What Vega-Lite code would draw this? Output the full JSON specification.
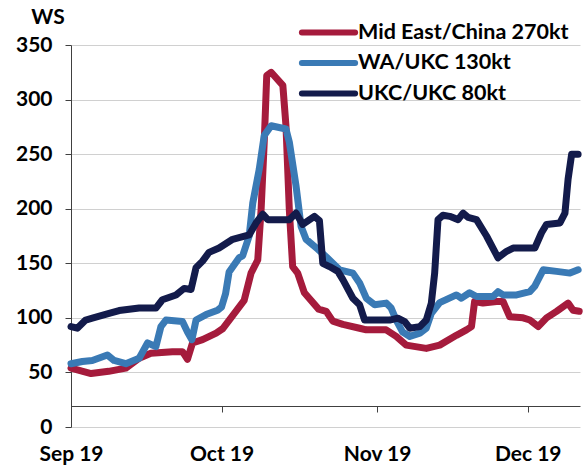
{
  "$schema": "https://vega.github.io/schema/vega-lite/v6.json",
  "width": 509,
  "height": 382,
  "autosize": {"type": "none"},
  "padding": {"left": 71, "top": 45, "right": 7, "bottom": 40},
  "background": "white",
  "config": {"view": {"stroke": null}, "font": "Lato"},
  "data": {"values": [
    {"route": "Mid East/China 270kt", "date": "2019-09-01T00:00", "ws": 54},
    {"route": "Mid East/China 270kt", "date": "2019-09-05T00:00", "ws": 49},
    {"route": "Mid East/China 270kt", "date": "2019-09-08T12:00", "ws": 51},
    {"route": "Mid East/China 270kt", "date": "2019-09-11T22:00", "ws": 54},
    {"route": "Mid East/China 270kt", "date": "2019-09-14T14:00", "ws": 63},
    {"route": "Mid East/China 270kt", "date": "2019-09-16T22:00", "ws": 67.5},
    {"route": "Mid East/China 270kt", "date": "2019-09-21T05:00", "ws": 69},
    {"route": "Mid East/China 270kt", "date": "2019-09-23T05:00", "ws": 69},
    {"route": "Mid East/China 270kt", "date": "2019-09-24T05:00", "ws": 62},
    {"route": "Mid East/China 270kt", "date": "2019-09-25T05:00", "ws": 77},
    {"route": "Mid East/China 270kt", "date": "2019-09-27T05:00", "ws": 80},
    {"route": "Mid East/China 270kt", "date": "2019-09-29T22:00", "ws": 86},
    {"route": "Mid East/China 270kt", "date": "2019-10-01T05:00", "ws": 90},
    {"route": "Mid East/China 270kt", "date": "2019-10-03T05:00", "ws": 102},
    {"route": "Mid East/China 270kt", "date": "2019-10-05T12:00", "ws": 116},
    {"route": "Mid East/China 270kt", "date": "2019-10-06T21:00", "ws": 141},
    {"route": "Mid East/China 270kt", "date": "2019-10-08T05:00", "ws": 153},
    {"route": "Mid East/China 270kt", "date": "2019-10-08T21:00", "ws": 199},
    {"route": "Mid East/China 270kt", "date": "2019-10-09T12:00", "ws": 261},
    {"route": "Mid East/China 270kt", "date": "2019-10-10T00:00", "ws": 322},
    {"route": "Mid East/China 270kt", "date": "2019-10-10T21:00", "ws": 325},
    {"route": "Mid East/China 270kt", "date": "2019-10-13T05:00", "ws": 313},
    {"route": "Mid East/China 270kt", "date": "2019-10-13T20:00", "ws": 276},
    {"route": "Mid East/China 270kt", "date": "2019-10-14T12:00", "ws": 199},
    {"route": "Mid East/China 270kt", "date": "2019-10-15T04:00", "ws": 147},
    {"route": "Mid East/China 270kt", "date": "2019-10-16T04:00", "ws": 141},
    {"route": "Mid East/China 270kt", "date": "2019-10-17T12:00", "ws": 123},
    {"route": "Mid East/China 270kt", "date": "2019-10-20T08:00", "ws": 108},
    {"route": "Mid East/China 270kt", "date": "2019-10-21T20:00", "ws": 106},
    {"route": "Mid East/China 270kt", "date": "2019-10-23T04:00", "ws": 97},
    {"route": "Mid East/China 270kt", "date": "2019-10-25T04:00", "ws": 94},
    {"route": "Mid East/China 270kt", "date": "2019-10-28T12:00", "ws": 90.5},
    {"route": "Mid East/China 270kt", "date": "2019-10-29T20:00", "ws": 89},
    {"route": "Mid East/China 270kt", "date": "2019-11-02T19:00", "ws": 89},
    {"route": "Mid East/China 270kt", "date": "2019-11-04T19:00", "ws": 83},
    {"route": "Mid East/China 270kt", "date": "2019-11-06T19:00", "ws": 75},
    {"route": "Mid East/China 270kt", "date": "2019-11-10T19:00", "ws": 72},
    {"route": "Mid East/China 270kt", "date": "2019-11-13T11:00", "ws": 75},
    {"route": "Mid East/China 270kt", "date": "2019-11-16T19:00", "ws": 84},
    {"route": "Mid East/China 270kt", "date": "2019-11-18T19:00", "ws": 89},
    {"route": "Mid East/China 270kt", "date": "2019-11-19T19:00", "ws": 92},
    {"route": "Mid East/China 270kt", "date": "2019-11-20T10:00", "ws": 115},
    {"route": "Mid East/China 270kt", "date": "2019-11-22T02:00", "ws": 113.5},
    {"route": "Mid East/China 270kt", "date": "2019-11-24T19:00", "ws": 115},
    {"route": "Mid East/China 270kt", "date": "2019-11-26T02:00", "ws": 115},
    {"route": "Mid East/China 270kt", "date": "2019-11-27T10:00", "ws": 101},
    {"route": "Mid East/China 270kt", "date": "2019-11-30T02:00", "ws": 100},
    {"route": "Mid East/China 270kt", "date": "2019-12-01T10:00", "ws": 98},
    {"route": "Mid East/China 270kt", "date": "2019-12-03T02:00", "ws": 92},
    {"route": "Mid East/China 270kt", "date": "2019-12-04T18:00", "ws": 100},
    {"route": "Mid East/China 270kt", "date": "2019-12-06T18:00", "ws": 106},
    {"route": "Mid East/China 270kt", "date": "2019-12-09T01:00", "ws": 113.5},
    {"route": "Mid East/China 270kt", "date": "2019-12-10T01:00", "ws": 107},
    {"route": "Mid East/China 270kt", "date": "2019-12-11T06:00", "ws": 106},
    {"route": "WA/UKC 130kt", "date": "2019-09-01T00:00", "ws": 58},
    {"route": "WA/UKC 130kt", "date": "2019-09-03T06:00", "ws": 60},
    {"route": "WA/UKC 130kt", "date": "2019-09-05T06:00", "ws": 61},
    {"route": "WA/UKC 130kt", "date": "2019-09-08T06:00", "ws": 66},
    {"route": "WA/UKC 130kt", "date": "2019-09-09T14:00", "ws": 61},
    {"route": "WA/UKC 130kt", "date": "2019-09-11T22:00", "ws": 58},
    {"route": "WA/UKC 130kt", "date": "2019-09-14T14:00", "ws": 63},
    {"route": "WA/UKC 130kt", "date": "2019-09-16T06:00", "ws": 77},
    {"route": "WA/UKC 130kt", "date": "2019-09-17T22:00", "ws": 73.6},
    {"route": "WA/UKC 130kt", "date": "2019-09-18T22:00", "ws": 92},
    {"route": "WA/UKC 130kt", "date": "2019-09-19T22:00", "ws": 98},
    {"route": "WA/UKC 130kt", "date": "2019-09-23T05:00", "ws": 96.6},
    {"route": "WA/UKC 130kt", "date": "2019-09-24T05:00", "ws": 87},
    {"route": "WA/UKC 130kt", "date": "2019-09-25T02:00", "ws": 80},
    {"route": "WA/UKC 130kt", "date": "2019-09-25T22:00", "ws": 98},
    {"route": "WA/UKC 130kt", "date": "2019-09-27T22:00", "ws": 103},
    {"route": "WA/UKC 130kt", "date": "2019-09-30T05:00", "ws": 107},
    {"route": "WA/UKC 130kt", "date": "2019-10-01T00:00", "ws": 110},
    {"route": "WA/UKC 130kt", "date": "2019-10-01T19:00", "ws": 122},
    {"route": "WA/UKC 130kt", "date": "2019-10-02T12:00", "ws": 142},
    {"route": "WA/UKC 130kt", "date": "2019-10-04T12:00", "ws": 155},
    {"route": "WA/UKC 130kt", "date": "2019-10-05T05:00", "ws": 157},
    {"route": "WA/UKC 130kt", "date": "2019-10-06T12:00", "ws": 175},
    {"route": "WA/UKC 130kt", "date": "2019-10-07T05:00", "ws": 205},
    {"route": "WA/UKC 130kt", "date": "2019-10-08T12:00", "ws": 236},
    {"route": "WA/UKC 130kt", "date": "2019-10-09T12:00", "ws": 267},
    {"route": "WA/UKC 130kt", "date": "2019-10-10T21:00", "ws": 276},
    {"route": "WA/UKC 130kt", "date": "2019-10-13T20:00", "ws": 273},
    {"route": "WA/UKC 130kt", "date": "2019-10-14T12:00", "ws": 261},
    {"route": "WA/UKC 130kt", "date": "2019-10-15T20:00", "ws": 221},
    {"route": "WA/UKC 130kt", "date": "2019-10-16T20:00", "ws": 184},
    {"route": "WA/UKC 130kt", "date": "2019-10-17T20:00", "ws": 172},
    {"route": "WA/UKC 130kt", "date": "2019-10-20T04:00", "ws": 163},
    {"route": "WA/UKC 130kt", "date": "2019-10-21T20:00", "ws": 156},
    {"route": "WA/UKC 130kt", "date": "2019-10-24T12:00", "ws": 144},
    {"route": "WA/UKC 130kt", "date": "2019-10-27T04:00", "ws": 141},
    {"route": "WA/UKC 130kt", "date": "2019-10-28T12:00", "ws": 132},
    {"route": "WA/UKC 130kt", "date": "2019-10-29T20:00", "ws": 118},
    {"route": "WA/UKC 130kt", "date": "2019-10-31T12:00", "ws": 112},
    {"route": "WA/UKC 130kt", "date": "2019-11-02T19:00", "ws": 113.5},
    {"route": "WA/UKC 130kt", "date": "2019-11-03T19:00", "ws": 109},
    {"route": "WA/UKC 130kt", "date": "2019-11-04T19:00", "ws": 98},
    {"route": "WA/UKC 130kt", "date": "2019-11-06T02:00", "ws": 87},
    {"route": "WA/UKC 130kt", "date": "2019-11-07T12:00", "ws": 83},
    {"route": "WA/UKC 130kt", "date": "2019-11-09T12:00", "ws": 86},
    {"route": "WA/UKC 130kt", "date": "2019-11-10T19:00", "ws": 90.5},
    {"route": "WA/UKC 130kt", "date": "2019-11-11T19:00", "ws": 104},
    {"route": "WA/UKC 130kt", "date": "2019-11-13T11:00", "ws": 114},
    {"route": "WA/UKC 130kt", "date": "2019-11-16T19:00", "ws": 121},
    {"route": "WA/UKC 130kt", "date": "2019-11-17T19:00", "ws": 118},
    {"route": "WA/UKC 130kt", "date": "2019-11-19T10:00", "ws": 123},
    {"route": "WA/UKC 130kt", "date": "2019-11-20T19:00", "ws": 119.6},
    {"route": "WA/UKC 130kt", "date": "2019-11-24T02:00", "ws": 119.6},
    {"route": "WA/UKC 130kt", "date": "2019-11-25T02:00", "ws": 124},
    {"route": "WA/UKC 130kt", "date": "2019-11-26T02:00", "ws": 121},
    {"route": "WA/UKC 130kt", "date": "2019-11-28T19:00", "ws": 121},
    {"route": "WA/UKC 130kt", "date": "2019-12-01T10:00", "ws": 124},
    {"route": "WA/UKC 130kt", "date": "2019-12-02T10:00", "ws": 129},
    {"route": "WA/UKC 130kt", "date": "2019-12-04T02:00", "ws": 144},
    {"route": "WA/UKC 130kt", "date": "2019-12-06T18:00", "ws": 142.6},
    {"route": "WA/UKC 130kt", "date": "2019-12-09T10:00", "ws": 141},
    {"route": "WA/UKC 130kt", "date": "2019-12-11T01:00", "ws": 144},
    {"route": "UKC/UKC 80kt", "date": "2019-09-01T00:00", "ws": 92},
    {"route": "UKC/UKC 80kt", "date": "2019-09-02T06:00", "ws": 90.5},
    {"route": "UKC/UKC 80kt", "date": "2019-09-03T22:00", "ws": 98},
    {"route": "UKC/UKC 80kt", "date": "2019-09-05T06:00", "ws": 99.7},
    {"route": "UKC/UKC 80kt", "date": "2019-09-08T14:00", "ws": 104},
    {"route": "UKC/UKC 80kt", "date": "2019-09-10T14:00", "ws": 106.7},
    {"route": "UKC/UKC 80kt", "date": "2019-09-14T14:00", "ws": 109},
    {"route": "UKC/UKC 80kt", "date": "2019-09-17T22:00", "ws": 109},
    {"route": "UKC/UKC 80kt", "date": "2019-09-19T05:00", "ws": 116.6},
    {"route": "UKC/UKC 80kt", "date": "2019-09-21T22:00", "ws": 121},
    {"route": "UKC/UKC 80kt", "date": "2019-09-23T13:00", "ws": 127},
    {"route": "UKC/UKC 80kt", "date": "2019-09-24T22:00", "ws": 126},
    {"route": "UKC/UKC 80kt", "date": "2019-09-25T22:00", "ws": 146},
    {"route": "UKC/UKC 80kt", "date": "2019-09-27T05:00", "ws": 152},
    {"route": "UKC/UKC 80kt", "date": "2019-09-28T12:00", "ws": 160},
    {"route": "UKC/UKC 80kt", "date": "2019-09-30T12:00", "ws": 164},
    {"route": "UKC/UKC 80kt", "date": "2019-10-03T05:00", "ws": 172},
    {"route": "UKC/UKC 80kt", "date": "2019-10-06T12:00", "ws": 176},
    {"route": "UKC/UKC 80kt", "date": "2019-10-07T21:00", "ws": 187},
    {"route": "UKC/UKC 80kt", "date": "2019-10-09T05:00", "ws": 195},
    {"route": "UKC/UKC 80kt", "date": "2019-10-10T05:00", "ws": 190},
    {"route": "UKC/UKC 80kt", "date": "2019-10-14T12:00", "ws": 190},
    {"route": "UKC/UKC 80kt", "date": "2019-10-15T20:00", "ws": 196},
    {"route": "UKC/UKC 80kt", "date": "2019-10-17T04:00", "ws": 185.6},
    {"route": "UKC/UKC 80kt", "date": "2019-10-19T12:00", "ws": 193},
    {"route": "UKC/UKC 80kt", "date": "2019-10-20T12:00", "ws": 189},
    {"route": "UKC/UKC 80kt", "date": "2019-10-21T04:00", "ws": 150},
    {"route": "UKC/UKC 80kt", "date": "2019-10-22T12:00", "ws": 147},
    {"route": "UKC/UKC 80kt", "date": "2019-10-24T04:00", "ws": 142.6},
    {"route": "UKC/UKC 80kt", "date": "2019-10-25T04:00", "ws": 135},
    {"route": "UKC/UKC 80kt", "date": "2019-10-27T04:00", "ws": 118},
    {"route": "UKC/UKC 80kt", "date": "2019-10-28T12:00", "ws": 112},
    {"route": "UKC/UKC 80kt", "date": "2019-10-29T12:00", "ws": 98},
    {"route": "UKC/UKC 80kt", "date": "2019-10-31T19:00", "ws": 98},
    {"route": "UKC/UKC 80kt", "date": "2019-11-03T12:00", "ws": 98},
    {"route": "UKC/UKC 80kt", "date": "2019-11-05T03:00", "ws": 99.7},
    {"route": "UKC/UKC 80kt", "date": "2019-11-06T12:00", "ws": 96.6},
    {"route": "UKC/UKC 80kt", "date": "2019-11-07T12:00", "ws": 90.5},
    {"route": "UKC/UKC 80kt", "date": "2019-11-09T12:00", "ws": 92},
    {"route": "UKC/UKC 80kt", "date": "2019-11-10T19:00", "ws": 98},
    {"route": "UKC/UKC 80kt", "date": "2019-11-11T19:00", "ws": 113.5},
    {"route": "UKC/UKC 80kt", "date": "2019-11-12T11:00", "ws": 141},
    {"route": "UKC/UKC 80kt", "date": "2019-11-13T03:00", "ws": 190},
    {"route": "UKC/UKC 80kt", "date": "2019-11-14T03:00", "ws": 194},
    {"route": "UKC/UKC 80kt", "date": "2019-11-15T11:00", "ws": 193},
    {"route": "UKC/UKC 80kt", "date": "2019-11-17T03:00", "ws": 190},
    {"route": "UKC/UKC 80kt", "date": "2019-11-18T03:00", "ws": 196},
    {"route": "UKC/UKC 80kt", "date": "2019-11-19T03:00", "ws": 192},
    {"route": "UKC/UKC 80kt", "date": "2019-11-20T19:00", "ws": 190},
    {"route": "UKC/UKC 80kt", "date": "2019-11-22T19:00", "ws": 175},
    {"route": "UKC/UKC 80kt", "date": "2019-11-25T02:00", "ws": 155},
    {"route": "UKC/UKC 80kt", "date": "2019-11-26T19:00", "ws": 161},
    {"route": "UKC/UKC 80kt", "date": "2019-11-28T02:00", "ws": 164},
    {"route": "UKC/UKC 80kt", "date": "2019-12-02T10:00", "ws": 164},
    {"route": "UKC/UKC 80kt", "date": "2019-12-03T18:00", "ws": 178},
    {"route": "UKC/UKC 80kt", "date": "2019-12-04T18:00", "ws": 185.6},
    {"route": "UKC/UKC 80kt", "date": "2019-12-07T10:00", "ws": 187},
    {"route": "UKC/UKC 80kt", "date": "2019-12-08T10:00", "ws": 196},
    {"route": "UKC/UKC 80kt", "date": "2019-12-09T01:00", "ws": 227},
    {"route": "UKC/UKC 80kt", "date": "2019-12-09T18:00", "ws": 250},
    {"route": "UKC/UKC 80kt", "date": "2019-12-11T01:00", "ws": 250}
  ]},
  "mark": {"type": "line", "strokeWidth": 7, "strokeCap": "round", "strokeJoin": "round"},
  "encoding": {
    "x": {
      "field": "date", "type": "temporal",
      "scale": {"domain": [{"year": 2019, "month": 9, "date": 1}, {"year": 2019, "month": 12, "date": 11, "hours": 10}]},
      "axis": {
        "title": null, "format": "%b %y",
        "values": [{"year": 2019, "month": 9, "date": 1}, {"year": 2019, "month": 10, "date": 1}, {"year": 2019, "month": 11, "date": 1}, {"year": 2019, "month": 12, "date": 1}],
        "grid": false, "offset": -21,
        "domainColor": "#404040", "domainWidth": 1,
        "tickColor": "#404040", "tickSize": 6, "tickWidth": 1,
        "labelFont": "Lato", "labelFontSize": 21, "labelFontWeight": "bold", "labelColor": "#000000",
        "labelPadding": 31, "labelFlush": false, "labelBound": false, "labelOverlap": false
      }
    },
    "y": {
      "field": "ws", "type": "quantitative",
      "scale": {"domain": [0, 350], "nice": false},
      "axis": {
        "title": "WS", "titleAngle": 0, "titleX": -23.5, "titleY": -27.5,
        "titleAlign": "center", "titleBaseline": "middle",
        "titleFont": "Lato", "titleFontSize": 21, "titleFontWeight": "bold", "titleColor": "#000000",
        "values": [0, 50, 100, 150, 200, 250, 300, 350],
        "grid": true, "gridColor": "#d0d0d0", "gridWidth": 1,
        "domainColor": "#404040", "domainWidth": 1,
        "tickColor": "#404040", "tickSize": 6, "tickWidth": 1,
        "labelFont": "Lato", "labelFontSize": 21, "labelFontWeight": "bold", "labelColor": "#000000",
        "labelPadding": 13
      }
    },
    "color": {
      "field": "route", "type": "nominal",
      "scale": {
        "domain": ["Mid East/China 270kt", "WA/UKC 130kt", "UKC/UKC 80kt"],
        "range": ["#A51B3C", "#3A7AB5", "#131B4B"]
      },
      "legend": {
        "orient": "none", "legendX": 245, "legendY": -25,
        "title": null, "direction": "vertical",
        "symbolType": "M-2.8,0H2.8", "symbolSize": 361, "symbolStrokeWidth": 6,
        "labelFont": "Lato", "labelFontSize": 21.5, "labelFontWeight": "bold", "labelColor": "#000000",
        "labelOffset": 17, "labelLimit": 400, "rowPadding": 5.5,
        "encode": {"symbols": {"update": {"strokeCap": {"value": "round"}}}}
      }
    }
  }
}
